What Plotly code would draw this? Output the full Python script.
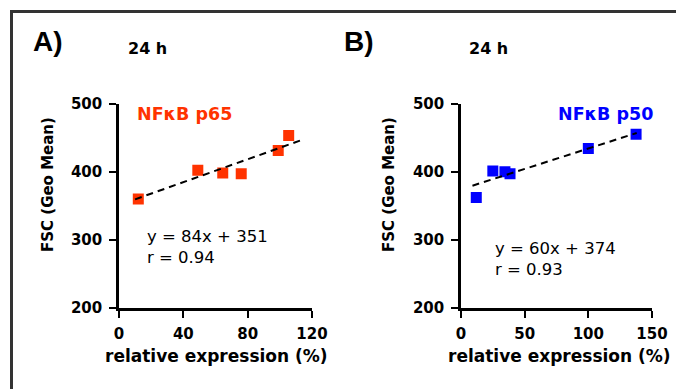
import plotly.graph_objects as go

W, H = 676, 389

# Panel A: NFkB p65
p65_x = [12, 49, 64.5, 76, 99, 105.5]
p65_y = [360, 402, 398, 397, 431, 453]
p65_slope, p65_intercept = 84, 351
p65_fit_x = [10, 115]

# Panel B: NFkB p50
p50_x = [12, 25, 34.5, 38.5, 100, 137.5]
p50_y = [362, 401, 400, 397, 434, 455]
p50_slope, p50_intercept = 60, 374
p50_fit_x = [9, 138]

xticks_a = [0, 40, 80, 120]
xticks_b = [0, 50, 100, 150]
yticks = [200, 300, 400, 500]

RED = "#FF3300"
BLUE = "#0000FF"
FONT = "DejaVu Sans, Liberation Sans, sans-serif"
ARIAL = "Liberation Sans, Arial, sans-serif"


def px(x):
    return x / W


def py(y):
    return 1 - y / H


fig = go.Figure()

fig.add_trace(go.Scatter(x=p65_x, y=p65_y, mode="markers",
                         marker=dict(symbol="square", size=11, color=RED),
                         xaxis="x", yaxis="y", showlegend=False))
fig.add_trace(go.Scatter(x=p65_fit_x,
                         y=[p65_slope * v / 100 + p65_intercept for v in p65_fit_x],
                         mode="lines", line=dict(color="black", width=2, dash="7px,5px"),
                         xaxis="x", yaxis="y", showlegend=False))
fig.add_trace(go.Scatter(x=p50_x, y=p50_y, mode="markers",
                         marker=dict(symbol="square", size=11, color=BLUE),
                         xaxis="x2", yaxis="y2", showlegend=False))
fig.add_trace(go.Scatter(x=p50_fit_x,
                         y=[p50_slope * v / 100 + p50_intercept for v in p50_fit_x],
                         mode="lines", line=dict(color="black", width=2, dash="7px,5px"),
                         xaxis="x2", yaxis="y2", showlegend=False))

tickfont = dict(family=FONT, size=15, color="black", weight="bold")
common_axis = dict(showline=True, linecolor="black", linewidth=2.5, ticks="outside",
                   ticklen=7, tickwidth=2, tickcolor="black", showgrid=False,
                   zeroline=False, tickfont=tickfont, automargin=False)

ydom = [py(308), py(103.5)]
fig.update_layout(
    width=W, height=H, autosize=False,
    margin=dict(l=0, r=0, t=0, b=0, pad=0),
    paper_bgcolor="white", plot_bgcolor="white",
    font=dict(family=FONT, color="black"),
    xaxis=dict(domain=[px(119), px(312)], range=[0, 120], tickvals=xticks_a,
               anchor="y", ticklabelstandoff=3, **common_axis),
    yaxis=dict(domain=ydom, range=[200, 500], tickvals=yticks, anchor="x",
               ticklabelstandoff=4, **common_axis),
    xaxis2=dict(domain=[px(461), px(652)], range=[0, 150], tickvals=xticks_b,
                anchor="y2", ticklabelstandoff=3, **common_axis),
    yaxis2=dict(domain=ydom, range=[200, 500], tickvals=yticks, anchor="x2",
                ticklabelstandoff=4, **common_axis),
)

# outer frame
fig.add_shape(type="rect", xref="paper", yref="paper",
              x0=px(11.5), x1=px(700), y0=py(420), y1=py(11.5),
              line=dict(color="#333333", width=3), fillcolor="rgba(0,0,0,0)")


def ann(x, y, text, size, color="black", bold=True, angle=0, xanchor="center", family=FONT):
    fig.add_annotation(x=px(x), y=py(y), xref="paper", yref="paper", text=text,
                       showarrow=False, xanchor=xanchor, yanchor="middle", textangle=angle,
                       font=dict(family=family, size=size, color=color,
                                 weight="bold" if bold else "normal"))


ann(31, 41, "A)", 28, xanchor="left", family=ARIAL)
ann(342, 41, "B)", 28, xanchor="left", family=ARIAL)
ann(126, 48, "24 h", 16, xanchor="left")
ann(467, 48, "24 h", 16, xanchor="left")
ann(135, 114, "NFκB p65", 17.5, color=RED, xanchor="left")
ann(556, 114, "NFκB p50", 17.5, color=BLUE, xanchor="left")
ann(145, 236, "y = 84x + 351", 16.5, bold=False, xanchor="left")
ann(145, 257, "r = 0.94", 16.5, bold=False, xanchor="left")
ann(493, 248, "y = 60x + 374", 16.5, bold=False, xanchor="left")
ann(493, 269, "r = 0.93", 16.5, bold=False, xanchor="left")
ann(48, 185, "FSC (Geo Mean)", 15, angle=-90)
ann(389, 185, "FSC (Geo Mean)", 15, angle=-90)
ann(216, 356, "relative expression (%)", 17)
ann(559, 356, "relative expression (%)", 17)

fig.write_html("out.html", config={"displayModeBar": False},
               post_script="document.body.style.margin='0';document.body.style.overflow='hidden';")
